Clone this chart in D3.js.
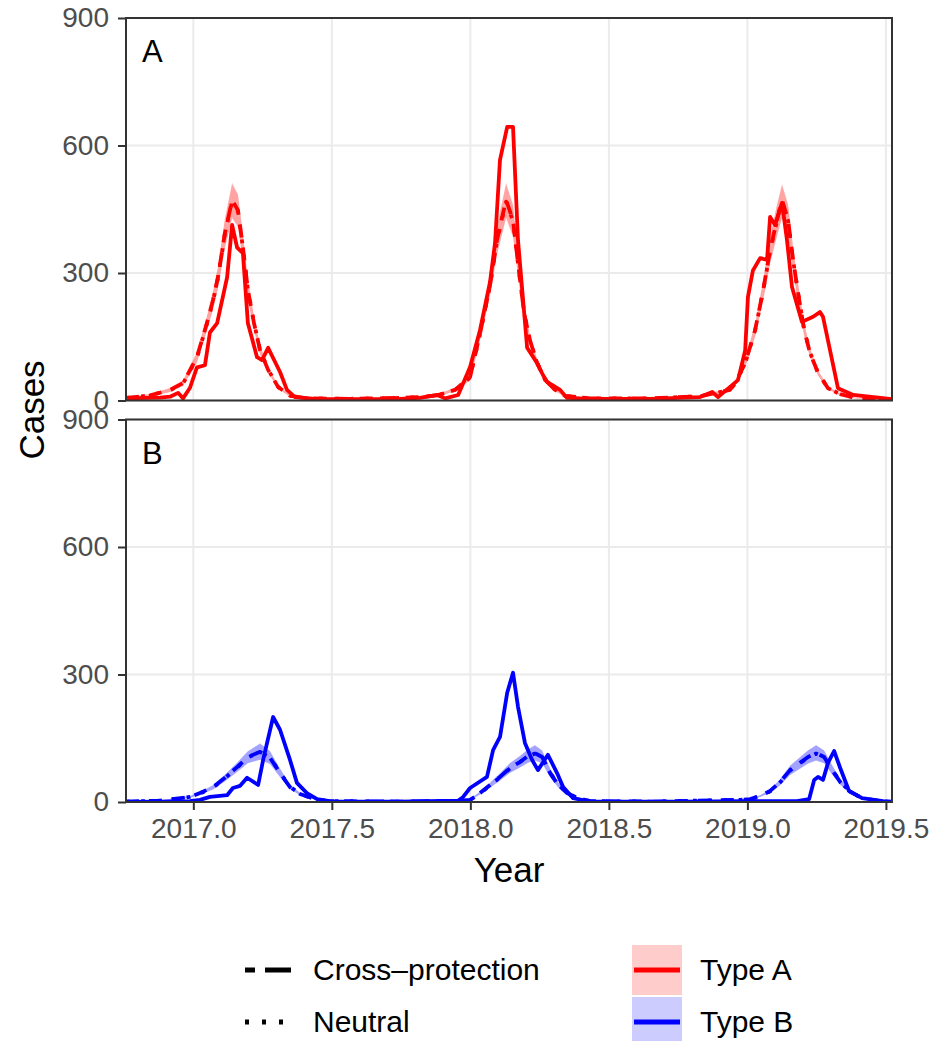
<!DOCTYPE html>
<html>
<head>
<meta charset="utf-8">
<script src="https://cdn.jsdelivr.net/npm/d3@7"></script>
<style>
  body { margin: 0; background: #fff; }
  svg { display: block; font-family: "Liberation Sans", Arial, Helvetica, sans-serif; }
</style>
</head>
<body>
<svg id="chart" width="937" height="1041"></svg>
<script>
// Axis ticks and labels
const yearTicks = [2017.0, 2017.5, 2018.0, 2018.5, 2019.0, 2019.5];
const caseTicks = [0, 300, 600, 900];
const panelLabels = ["A", "B"];
const typeNames = ["Type A", "Type B"];
const modelNames = ["Cross\u2013protection", "Neutral"];
const yearDomain = [2016.757, 2019.522];

// Observed cases: [year, cases]
const typeAObserved = [
  [2016.757,5],[2016.880,7],[2016.916,9],[2016.945,18],[2016.963,5],[2016.988,30],
  [2017.013,78],[2017.042,83],[2017.060,160],[2017.086,182],[2017.122,290],[2017.140,413],
  [2017.158,360],[2017.179,347],[2017.197,182],[2017.230,102],[2017.248,95],[2017.270,124],
  [2017.313,67],[2017.338,25],[2017.367,8],[2017.439,4],[2017.566,3],[2017.745,4],
  [2017.818,6],[2017.880,13],[2017.909,5],[2017.956,13],[2017.999,79],[2018.035,166],
  [2018.071,279],[2018.089,370],[2018.107,566],[2018.133,644],[2018.154,644],[2018.172,377],
  [2018.205,124],[2018.241,88],[2018.262,60],[2018.277,44],[2018.324,25],[2018.349,6],
  [2018.432,4],[2018.649,4],[2018.829,8],[2018.873,20],[2018.894,8],[2018.966,48],
  [2018.992,118],[2019.002,244],[2019.020,306],[2019.046,335],[2019.071,331],[2019.082,432],
  [2019.100,413],[2019.125,465],[2019.143,377],[2019.161,267],[2019.197,185],[2019.237,197],
  [2019.262,208],[2019.273,197],[2019.327,29],[2019.382,13],[2019.522,3]
];
const typeBObserved = [
  [2016.757,0],[2016.880,1],[2016.988,2],[2017.024,5],[2017.060,12],[2017.122,16],
  [2017.143,33],[2017.169,38],[2017.194,57],[2017.234,40],[2017.252,99],[2017.288,200],
  [2017.313,170],[2017.349,99],[2017.374,45],[2017.410,21],[2017.447,7],[2017.493,1],
  [2017.745,1],[2017.956,3],[2017.974,12],[2017.999,33],[2018.060,59],[2018.082,122],
  [2018.107,153],[2018.133,257],[2018.154,304],[2018.172,224],[2018.197,139],[2018.223,99],
  [2018.244,75],[2018.280,111],[2018.313,68],[2018.335,35],[2018.371,9],[2018.432,1],
  [2018.757,1],[2019.010,2],[2019.179,2],[2019.223,7],[2019.241,52],[2019.255,59],
  [2019.273,52],[2019.291,92],[2019.313,120],[2019.335,80],[2019.367,26],[2019.414,9],
  [2019.490,2],[2019.522,1]
];

// Model fits: [year, median, lower, upper]
const typeACross = [
  [2016.757,6,4,8],[2016.844,12,9,15],[2016.916,25,20,30],[2016.963,41,35,48],
  [2017.013,102,90,114],[2017.049,182,165,199],[2017.071,236,215,257],[2017.089,290,265,315],
  [2017.114,394,360,428],[2017.140,471,430,513],[2017.161,448,410,486],[2017.179,361,330,392],
  [2017.197,260,237,283],[2017.219,182,166,198],[2017.241,118,107,129],[2017.270,72,65,79],
  [2017.306,32,28,36],[2017.349,11,9,13],[2017.410,5,4,6],[2017.566,4,3,5],
  [2017.745,6,5,7],[2017.818,8,6,10],[2017.880,12,10,15],[2017.945,25,21,30],
  [2017.999,55,48,62],[2018.035,158,143,173],[2018.071,271,247,295],[2018.096,377,344,410],
  [2018.129,472,432,513],[2018.154,424,387,461],[2018.172,323,295,351],[2018.194,206,188,224],
  [2018.215,142,130,154],[2018.241,88,80,96],[2018.270,48,43,53],[2018.306,25,22,28],
  [2018.342,11,9,13],[2018.432,5,4,6],[2018.649,5,4,6],[2018.829,10,8,12],
  [2018.937,25,21,29],[2018.956,41,35,47],[2018.992,88,79,97],[2019.028,166,151,181],
  [2019.057,260,237,283],[2019.082,354,323,385],[2019.104,417,381,453],[2019.125,472,432,510],
  [2019.147,424,387,461],[2019.165,331,302,360],[2019.183,253,231,275],[2019.205,166,151,181],
  [2019.226,112,102,122],[2019.255,65,59,71],[2019.291,29,26,32],[2019.335,15,13,17],
  [2019.389,6,5,7],[2019.522,2,1,3]
];
const typeANeutral = [
  [2016.757,6,4,8],[2016.844,12,9,15],[2016.916,24,20,29],[2016.963,40,34,47],
  [2017.013,100,88,112],[2017.049,180,163,197],[2017.071,234,213,255],[2017.089,288,263,313],
  [2017.114,392,358,426],[2017.140,468,428,508],[2017.161,446,408,484],[2017.179,360,329,391],
  [2017.197,261,238,284],[2017.219,183,167,199],[2017.241,119,108,130],[2017.270,73,66,80],
  [2017.306,32,28,36],[2017.349,11,9,13],[2017.410,5,4,6],[2017.566,4,3,5],
  [2017.745,6,5,7],[2017.818,8,6,10],[2017.880,12,10,15],[2017.945,25,21,30],
  [2017.999,54,47,61],[2018.035,156,141,171],[2018.071,270,246,294],[2018.096,375,342,408],
  [2018.129,468,428,508],[2018.154,422,385,459],[2018.172,322,294,350],[2018.194,207,189,225],
  [2018.215,143,131,155],[2018.241,89,81,97],[2018.270,48,43,53],[2018.306,25,22,28],
  [2018.342,11,9,13],[2018.432,5,4,6],[2018.649,5,4,6],[2018.829,10,8,12],
  [2018.937,25,21,29],[2018.956,40,34,46],[2018.992,87,78,96],[2019.028,165,150,180],
  [2019.057,258,235,281],[2019.082,352,321,383],[2019.104,415,379,451],[2019.125,469,429,506],
  [2019.147,423,386,460],[2019.165,330,301,359],[2019.183,253,231,275],[2019.205,167,152,182],
  [2019.226,113,103,123],[2019.255,65,59,71],[2019.291,29,26,32],[2019.335,15,13,17],
  [2019.389,6,5,7],[2019.522,2,1,3]
];
const typeBCross = [
  [2016.757,1,0,2],[2016.880,3,2,4],[2016.988,12,10,14],[2017.024,21,18,24],
  [2017.071,35,30,40],[2017.114,57,49,65],[2017.158,82,71,93],[2017.197,106,92,120],
  [2017.241,118,100,138],[2017.277,104,89,119],[2017.313,68,58,78],[2017.349,35,30,40],
  [2017.385,19,16,22],[2017.439,7,6,8],[2017.493,2,1,3],[2017.745,1,0,2],
  [2017.963,3,2,4],[2017.999,5,4,7],[2018.035,21,18,25],[2018.071,40,34,46],
  [2018.107,59,51,68],[2018.143,80,69,92],[2018.179,94,81,108],[2018.208,108,93,124],
  [2018.233,115,98,134],[2018.259,106,91,121],[2018.288,68,58,78],[2018.317,40,34,46],
  [2018.349,21,18,24],[2018.389,9,7,11],[2018.432,2,1,3],[2018.649,1,0,2],
  [2018.974,5,4,6],[2019.010,7,6,8],[2019.046,14,12,16],[2019.082,26,22,30],
  [2019.118,47,40,54],[2019.154,75,64,86],[2019.190,92,79,106],[2019.219,106,91,122],
  [2019.248,115,98,134],[2019.277,106,91,121],[2019.306,75,64,86],[2019.335,47,40,54],
  [2019.371,24,20,28],[2019.414,9,7,11],[2019.479,2,1,3],[2019.522,0,0,1]
];
const typeBNeutral = [
  [2016.757,1,0,2],[2016.880,3,2,4],[2016.988,12,10,14],[2017.024,20,17,23],
  [2017.071,34,29,39],[2017.114,56,48,64],[2017.158,81,70,92],[2017.197,105,91,119],
  [2017.241,117,99,137],[2017.277,105,90,120],[2017.313,69,59,79],[2017.349,36,31,41],
  [2017.385,19,16,22],[2017.439,7,6,8],[2017.493,2,1,3],[2017.745,1,0,2],
  [2017.963,3,2,4],[2017.999,5,4,7],[2018.035,20,17,24],[2018.071,39,33,45],
  [2018.107,58,50,67],[2018.143,79,68,91],[2018.179,94,81,108],[2018.208,107,92,123],
  [2018.233,114,97,133],[2018.259,106,91,121],[2018.288,69,59,79],[2018.317,41,35,47],
  [2018.349,21,18,24],[2018.389,9,7,11],[2018.432,2,1,3],[2018.649,1,0,2],
  [2018.974,5,4,6],[2019.010,7,6,8],[2019.046,14,12,16],[2019.082,25,21,29],
  [2019.118,46,39,53],[2019.154,74,63,85],[2019.190,91,78,105],[2019.219,105,90,121],
  [2019.248,114,97,133],[2019.277,106,91,121],[2019.306,76,65,87],[2019.335,48,41,55],
  [2019.371,24,20,28],[2019.414,9,7,11],[2019.479,2,1,3],[2019.522,0,0,1]
];

const colours = { A: "#FF0000", B: "#0000FF" };
const gridColour = "#EBEBEB";
const borderColour = "#333333";
const tickTextColour = "#4D4D4D";

const svg = d3.select("#chart");
svg.append("rect").attr("width", 937).attr("height", 1041).attr("fill", "#fff");

const x = d3.scaleLinear().domain(yearDomain).range([126, 892]);

const panels = [
  { key: "A", label: panelLabels[0], top: 18, bottom: 400.5, observed: typeAObserved, cross: typeACross, neutral: typeANeutral },
  { key: "B", label: panelLabels[1], top: 419.5, bottom: 802, observed: typeBObserved, cross: typeBCross, neutral: typeBNeutral }
];

const lineWidth = 3.8;

panels.forEach((p, i) => {
  const y = d3.scaleLinear().domain([0, 900]).range([p.bottom, p.top]);
  const g = svg.append("g");
  const clipId = "clip-" + p.key;
  svg.append("clipPath").attr("id", clipId)
    .append("rect").attr("x", x.range()[0]).attr("y", p.top)
    .attr("width", x.range()[1] - x.range()[0]).attr("height", p.bottom - p.top);

  // grid
  const grid = g.append("g");
  grid.selectAll("line.v").data(yearTicks.filter(t => t >= yearDomain[0] && t <= yearDomain[1]))
    .join("line").attr("x1", d => x(d)).attr("x2", d => x(d))
    .attr("y1", p.top).attr("y2", p.bottom)
    .attr("stroke", gridColour).attr("stroke-width", 2);
  grid.selectAll("line.h").data(caseTicks)
    .join("line").attr("x1", x.range()[0]).attr("x2", x.range()[1])
    .attr("y1", d => y(d)).attr("y2", d => y(d))
    .attr("stroke", gridColour).attr("stroke-width", 2);

  const plot = g.append("g").attr("clip-path", `url(#${clipId})`);
  const colour = colours[p.key];

  const band = d3.area().x(d => x(d[0])).y0(d => y(d[2])).y1(d => y(d[3]));
  const mid = d3.line().x(d => x(d[0])).y(d => y(d[1]));
  const obs = d3.line().x(d => x(d[0])).y(d => y(d[1]));

  [p.cross, p.neutral].forEach(fit => {
    plot.append("path").attr("d", band(fit)).attr("fill", colour).attr("fill-opacity", 0.2);
  });
  plot.append("path").attr("d", mid(p.cross)).attr("fill", "none")
    .attr("stroke", colour).attr("stroke-width", lineWidth)
    .attr("stroke-dasharray", "13,10").attr("stroke-linejoin", "round");
  plot.append("path").attr("d", mid(p.neutral)).attr("fill", "none")
    .attr("stroke", colour).attr("stroke-width", lineWidth)
    .attr("stroke-dasharray", "3.8,11.4").attr("stroke-linejoin", "round");
  plot.append("path").attr("d", obs(p.observed)).attr("fill", "none")
    .attr("stroke", colour).attr("stroke-width", lineWidth)
    .attr("stroke-linejoin", "round");

  // panel border
  g.append("rect").attr("x", x.range()[0]).attr("y", p.top)
    .attr("width", x.range()[1] - x.range()[0]).attr("height", p.bottom - p.top)
    .attr("fill", "none").attr("stroke", borderColour).attr("stroke-width", 2);

  // y axis
  const yAxis = g.append("g").attr("transform", `translate(${x.range()[0]},0)`)
    .call(d3.axisLeft(y).tickValues(caseTicks).tickFormat(d3.format("d")).tickSize(8).tickPadding(9));
  yAxis.select(".domain").remove();
  yAxis.selectAll(".tick line").attr("stroke", borderColour).attr("stroke-width", 2);
  yAxis.selectAll(".tick text").attr("fill", tickTextColour)
    .attr("font-size", 28).attr("font-family", "Liberation Sans, Arial, sans-serif");

  // panel letter
  g.append("text").attr("x", 142).attr("y", p.top + 44)
    .attr("font-size", 31).attr("fill", "#000").text(p.label);

  if (i === panels.length - 1) {
    const xAxis = g.append("g").attr("transform", `translate(0,${p.bottom})`)
      .call(d3.axisBottom(x).tickValues(yearTicks).tickFormat(d3.format(".1f")).tickSize(8).tickPadding(8));
    xAxis.select(".domain").remove();
    xAxis.selectAll(".tick line").attr("stroke", borderColour).attr("stroke-width", 2);
    xAxis.selectAll(".tick text").attr("fill", tickTextColour)
      .attr("font-size", 28).attr("font-family", "Liberation Sans, Arial, sans-serif");
  }
});

// axis titles
svg.append("text").attr("x", 509).attr("y", 882).attr("text-anchor", "middle")
  .attr("font-size", 35).attr("fill", "#000").text("Year");
svg.append("text").attr("transform", "translate(44,410) rotate(-90)")
  .attr("text-anchor", "middle").attr("font-size", 35).attr("fill", "#000").text("Cases");

// legend: model line types
const legend = svg.append("g");
const lineKeys = [
  { name: modelNames[0], dash: "10,10,26,10", cy: 970 },
  { name: modelNames[1], dash: "4,13", cy: 1022 }
];
lineKeys.forEach(k => {
  legend.append("line").attr("x1", 245).attr("x2", 291).attr("y1", k.cy).attr("y2", k.cy)
    .attr("stroke", "#000").attr("stroke-width", 5).attr("stroke-dasharray", k.dash);
  legend.append("text").attr("x", 313).attr("y", k.cy + 10)
    .attr("font-size", 30).attr("fill", "#000").text(k.name);
});

// legend: types
const typeKeys = [
  { name: typeNames[0], colour: colours.A, cy: 970 },
  { name: typeNames[1], colour: colours.B, cy: 1022 }
];
typeKeys.forEach(k => {
  legend.append("rect").attr("x", 632).attr("y", k.cy - 25).attr("width", 50).attr("height", 50)
    .attr("fill", k.colour).attr("fill-opacity", 0.2);
  legend.append("line").attr("x1", 634).attr("x2", 680).attr("y1", k.cy).attr("y2", k.cy)
    .attr("stroke", k.colour).attr("stroke-width", 5);
  legend.append("text").attr("x", 700).attr("y", k.cy + 10)
    .attr("font-size", 30).attr("fill", "#000").text(k.name);
});
</script>
</body>
</html>
